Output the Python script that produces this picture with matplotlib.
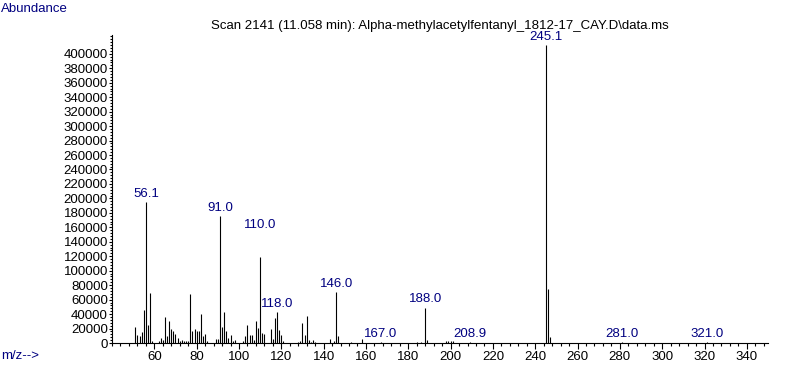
import matplotlib
matplotlib.use("Agg")
import matplotlib.pyplot as plt
from matplotlib.ticker import MultipleLocator, FixedLocator

# peaks (m/z, abundance)
mz = [51, 52, 53, 54, 55, 56, 57, 58, 59, 62, 63, 64, 65, 66, 67, 68, 69, 70,
      71, 72, 73, 74, 75, 76, 77, 78, 79, 80, 81, 82, 83, 84, 85, 89, 90, 91,
      92, 93, 94, 95, 96, 97, 98, 102, 103, 104, 105, 106, 107, 108, 109, 110,
      111, 112, 115, 116, 117, 118, 119, 120, 121, 128, 129, 130, 131, 132,
      133, 134, 135, 136, 143, 145, 146, 147, 153, 158, 167, 184, 186, 188,
      189, 198, 199, 200, 201, 209, 245, 246, 247, 281, 321]
abundance = [22000, 11000, 10000, 15000, 45000, 195000, 25000, 69000, 3000,
             3000, 7000, 4000, 36000, 9000, 30000, 19000, 16000, 12000,
             7000, 3000, 4000, 2500, 2500, 3000, 68000, 16000, 19000, 17000,
             17000, 40000, 9000, 12000, 2500, 6000, 5000, 176000,
             22000, 43000, 17000, 7000, 11000, 3000, 4000, 3000, 9000, 25000,
             11000, 11000, 4000, 30000, 21000, 119000,
             14000, 12000, 19000, 5000, 34000, 43000, 18000, 11000, 2500,
             2000, 3000, 27000, 11000, 38000,
             4000, 2000, 4000, 2000, 6000, 2500, 70000, 9000, 2000, 5000,
             1500, 2000, 2000, 49000,
             4500, 3000, 3000, 3000, 2500, 1200, 412000, 74000, 8000, 1200, 1000]

label_mz = [56, 91, 110, 118, 146, 167, 188, 209, 245, 281, 321]
label_text = ["56.1", "91.0", "110.0", "118.0", "146.0", "167.0", "188.0",
              "208.9", "245.1", "281.0", "321.0"]

title = "Scan 2141 (11.058 min): Alpha-methylacetylfentanyl_1812-17_CAY.D\\data.ms"

navy = "#000080"
plt.rcParams["font.family"] = ["Liberation Sans", "DejaVu Sans"]
plt.rcParams["font.size"] = 9

W, H = 787, 367
fig = plt.figure(figsize=(W / 100, H / 100), dpi=100)
ax = fig.add_axes([112 / W, 24 / H, 656 / W, 308 / H])

ax.vlines(mz, 0, abundance, color="black", linewidth=0.8)

peak = dict(zip(mz, abundance))
lift = {110: 17}  # this label sits higher in the original
for m, t in zip(label_mz, label_text):
    ax.annotate(t, (m, peak[m]), xytext=(0, 1.5 + lift.get(m, 0)),
                textcoords="offset points", ha="center", va="bottom",
                color=navy, fontsize=9.5)

ax.set_xlim(40, 350)
ax.set_ylim(0, 426000)
ax.xaxis.set_major_locator(FixedLocator(range(60, 341, 20)))
ax.xaxis.set_minor_locator(MultipleLocator(4))
ax.yaxis.set_major_locator(FixedLocator(range(0, 400001, 20000)))
ax.yaxis.set_minor_locator(MultipleLocator(4000))

for s in ["top", "right"]:
    ax.spines[s].set_visible(False)
for s in ["left", "bottom"]:
    ax.spines[s].set_linewidth(0.8)

ax.tick_params(axis="x", which="major", length=4, width=0.8, pad=2, labelsize=9.5)
ax.tick_params(axis="x", which="minor", length=2, width=0.8)
ax.tick_params(axis="y", which="major", length=2.5, width=0.8, pad=0.5, labelsize=9.5)
ax.tick_params(axis="y", which="minor", length=1.5, width=0.8)

fig.text(440 / W, 1 - 26 / H, title, ha="center", va="center", fontsize=9.5)
fig.text(1 / W, 1 - 9.5 / H, "Abundance", ha="left", va="center", color=navy, fontsize=9.5)
fig.text(1 / W, 1 - 356 / H, "m/z-->", ha="left", va="center", color=navy, fontsize=9.5)

fig.savefig("out.png", dpi=100)
